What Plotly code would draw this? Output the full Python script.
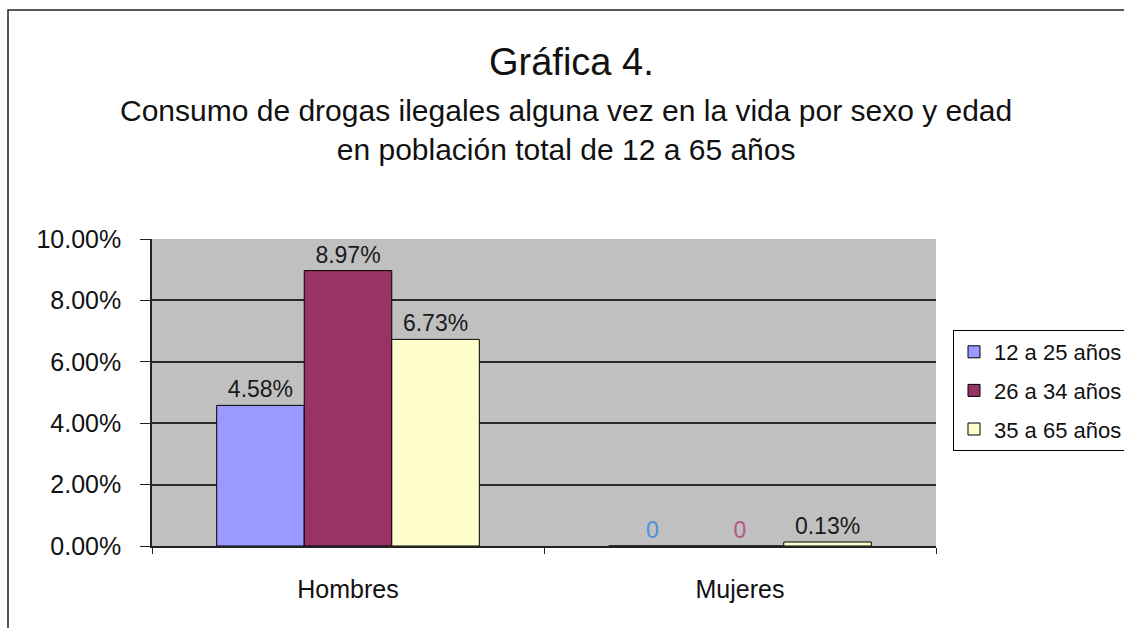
import plotly.graph_objects as go

sexos = ["Hombres", "Mujeres"]
edades = ["12 a 25 años", "26 a 34 años", "35 a 65 años"]
v_12_25 = [0.0458, 0.0]
v_26_34 = [0.0897, 0.0]
v_35_65 = [0.0673, 0.0013]

colores = ["#9999FF", "#993366", "#FFFFCC"]
# Excel pinta los "0" de las barras vacias con otro color
colores_cero = ["#4A90D9", "#B5577F", "#222222"]

fuente = "Liberation Sans, Arial, sans-serif"

# figure wider than the window so the legend runs off the right edge like the original
W, H = 1160, 628
L, R, T, B = 152, 936, 239, 546  # plot area in px
PW, PH = R - L, B - T

def px(x):
	return (x - L) / PW

def py(y):
	return (B - y) / PH

def etiqueta(v):
	if v == 0:
		return "0"
	return f"{v:.2%}"

fig = go.Figure()
for nombre, vals, col, col0 in zip(edades, [v_12_25, v_26_34, v_35_65], colores, colores_cero):
	fig.add_trace(go.Bar(
		x=sexos, y=vals, name=nombre, legendgroup=nombre,
		marker=dict(color=col, line=dict(color="black", width=1)),
		text=[etiqueta(v) for v in vals],
		textposition="outside",
		textfont=dict(size=23, family=fuente, color=[col0 if v == 0 else "#1a1a1a" for v in vals]),
		cliponaxis=False,
	))

fig.update_layout(
	width=W, height=H,
	margin=dict(l=L, r=W - R, t=T, b=H - B),
	paper_bgcolor="white",
	plot_bgcolor="#C0C0C0",
	barmode="group",
	bargap=0.33,
	bargroupgap=0,
	font=dict(family=fuente, size=23, color="#111111"),
	showlegend=True,
	legend=dict(
		x=px(953), y=py(330), xanchor="left", yanchor="top",
		bordercolor="black", borderwidth=1, bgcolor="white",
		font=dict(size=22, family=fuente),
		tracegroupgap=7,
	),
)

fig.update_yaxes(
	range=[0, 0.1], dtick=0.02, tickformat=".2%",
	showgrid=True, gridcolor="#2a2a2a", gridwidth=1.5,
	showline=True, linecolor="#222222", linewidth=1.5,
	ticks="outside", ticklen=10, tickcolor="#222222",
	tickfont=dict(size=25, family=fuente),
	ticklabelstandoff=14,
	zeroline=False,
)
fig.update_xaxes(
	showline=True, linecolor="#222222", linewidth=2,
	ticks="outside", tickson="boundaries", ticklen=6, tickcolor="#222222",
	tickfont=dict(size=25, family=fuente),
	ticklabelstandoff=20,
	showgrid=False,
)

# titulos
fig.add_annotation(text="Gráfica 4.", xref="paper", yref="paper",
	x=px(571), y=py(62), xanchor="center", yanchor="middle",
	showarrow=False, font=dict(size=38, family=fuente, color="#111111"))
fig.add_annotation(text="Consumo de drogas ilegales alguna vez en la vida por sexo y edad<br>en población total de 12 a 65 años",
	xref="paper", yref="paper",
	x=px(566), y=py(130), xanchor="center", yanchor="middle",
	showarrow=False, align="center",
	font=dict(size=30, family=fuente, color="#111111"))

# borde del grafico
fig.add_shape(type="rect", xref="paper", yref="paper",
	x0=px(8), x1=px(1180), y0=py(660), y1=py(10),
	line=dict(color="#222222", width=1.5), layer="below")

# no body margin and no scrollbars, so the figure sits at the window's corner
fig.write_html("out.html", config={"displayModeBar": False},
	post_script="document.body.style.margin='0';document.body.style.overflow='hidden';")
